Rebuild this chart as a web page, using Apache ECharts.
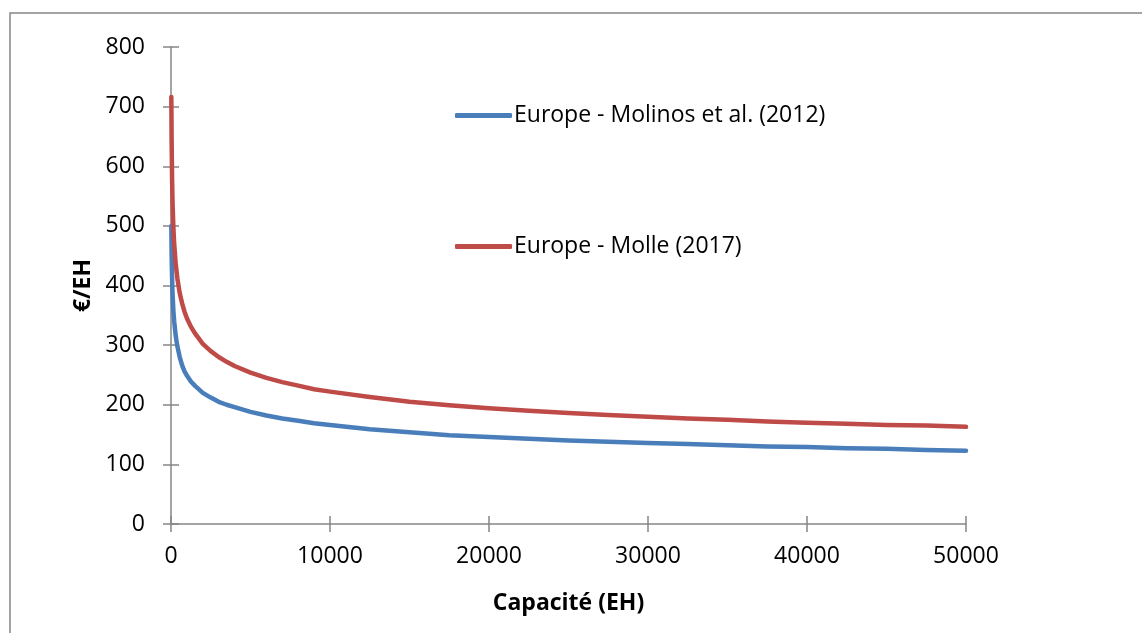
<!DOCTYPE html>
<html>
<head>
<meta charset="utf-8">
<script src="https://cdn.jsdelivr.net/npm/echarts@6/dist/echarts.min.js"></script>
<style>
  html, body { margin: 0; padding: 0; background: #fff; }
  #main { width: 1142px; height: 633px; }
</style>
</head>
<body>
<div id="main"></div>
<script>
// capacity (EH) and cost per EH
const capacity = [20, 40, 70, 100, 150, 200, 300, 400, 550, 700, 850, 1000, 1250, 1500, 2000, 2500, 3000, 3500, 4000, 5000, 6000, 7000, 8000, 9000, 10000,
  12500, 15000, 17500, 20000, 22500, 25000, 27500, 30000, 32500, 35000, 37500, 40000, 42500, 45000, 47500, 50000]
const molinos = [500, 450, 410, 385, 358, 340, 315, 298, 280, 266, 256, 249, 239, 232, 220, 212, 205, 200, 196, 188, 182, 177, 173, 169, 166,
  159, 154, 149, 146, 143, 140, 138, 136, 134, 132, 130, 129, 127, 126, 124, 123]
const molle = [716, 641, 576, 537, 497, 470, 435, 412, 387, 370, 356, 345, 331, 320, 302, 290, 280, 272, 265, 254, 245, 238, 232, 226, 222,
  213, 205, 199, 194, 190, 186, 183, 180, 177, 175, 172, 170, 168, 166, 165, 163]
const seriesNames = ['Europe - Molinos et al. (2012)', 'Europe - Molle (2017)']

const font = '"Open Sans", "Liberation Sans", sans-serif'
const axisGrey = '#868686'
const fs = 23

let myChart = echarts.init(document.getElementById('main'))

function pairs(xs, ys) {
  return xs.map((x, i) => [x, ys[i]])
}

function legendAt(top, name) {
  return {
    left: 455, top: top, padding: 0,
    icon: 'roundRect',
    itemWidth: 57, itemHeight: 5, itemGap: 0,
    textStyle: { fontSize: fs, fontFamily: font, color: '#000', padding: [0, 0, 0, -3] },
    data: [name]
  }
}

myChart.setOption({
  animation: false,
  textStyle: { fontFamily: font, color: '#000' },
  graphic: [
    {
      type: 'rect',
      shape: { x: 10, y: 13, width: 1200, height: 700 },
      style: { fill: 'none', stroke: axisGrey, lineWidth: 1.5 }
    }
  ],
  grid: { left: 171, right: 176, top: 47, bottom: 109 },
  legend: [legendAt(104, seriesNames[0]), legendAt(235, seriesNames[1])],
  xAxis: [
    {
      type: 'value', min: 0, max: 50000, interval: 10000,
      name: 'Capacité (EH)', nameLocation: 'middle', nameGap: 68,
      nameTextStyle: { fontSize: fs, fontWeight: 'bold', color: '#000', fontFamily: font },
      axisLine: { show: true, lineStyle: { color: axisGrey, width: 1.5 } },
      axisTick: { show: true, length: 8, lineStyle: { color: axisGrey, width: 1.5 } },
      axisLabel: { fontSize: fs, color: '#000', margin: 21, fontFamily: font, formatter: v => String(v) },
      splitLine: { show: false }
    },
    {
      type: 'value', min: 0, max: 50000, interval: 10000, position: 'bottom',
      axisLine: { show: false },
      axisTick: { show: true, inside: true, length: 8, lineStyle: { color: axisGrey, width: 1.5 } },
      axisLabel: { show: false },
      splitLine: { show: false }
    }
  ],
  yAxis: [
    {
      type: 'value', min: 0, max: 800, interval: 100,
      name: '€/EH', nameLocation: 'middle', nameGap: 76, nameRotate: 90,
      nameTextStyle: { fontSize: fs, fontWeight: 'bold', color: '#000', fontFamily: font },
      axisLine: { show: true, lineStyle: { color: axisGrey, width: 1.5 } },
      axisTick: { show: true, length: 8, lineStyle: { color: axisGrey, width: 1.5 } },
      axisLabel: { fontSize: fs, color: '#000', margin: 26, fontFamily: font },
      splitLine: { show: false }
    },
    {
      type: 'value', min: 0, max: 800, interval: 100, position: 'left',
      axisLine: { show: false },
      axisTick: { show: true, inside: true, length: 8, lineStyle: { color: axisGrey, width: 1.5 } },
      axisLabel: { show: false },
      splitLine: { show: false }
    }
  ],
  series: [
    {
      name: seriesNames[0],
      type: 'line',
      smooth: false,
      showSymbol: false,
      symbol: 'none',
      lineStyle: { color: '#4A7EBB', width: 4.5, cap: 'round', join: 'round' },
      itemStyle: { color: '#4A7EBB' },
      data: pairs(capacity, molinos)
    },
    {
      name: seriesNames[1],
      type: 'line',
      smooth: false,
      showSymbol: false,
      symbol: 'none',
      lineStyle: { color: '#BE4B48', width: 4.5, cap: 'round', join: 'round' },
      itemStyle: { color: '#BE4B48' },
      data: pairs(capacity, molle)
    }
  ]
})
</script>
</body>
</html>
